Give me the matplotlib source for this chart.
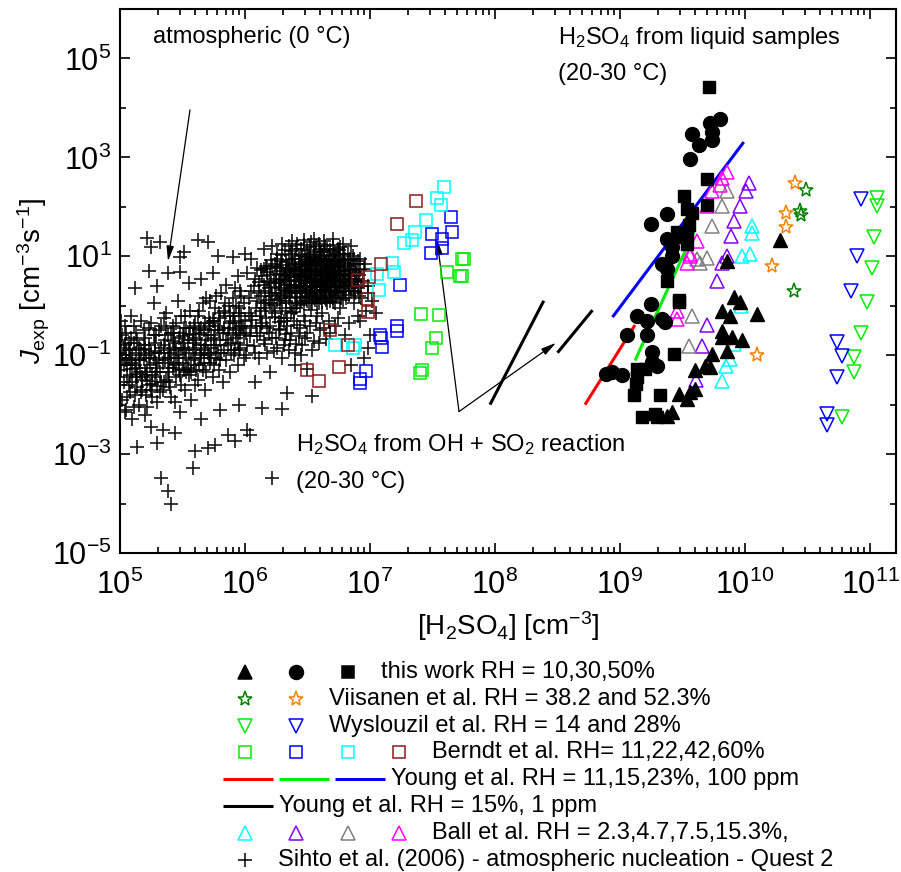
import matplotlib
matplotlib.use('Agg')
import matplotlib.pyplot as plt
import numpy as np
from matplotlib.ticker import LogLocator, LogFormatterSciNotation, NullFormatter, FixedLocator

plt.rcParams['font.family'] = ['Liberation Sans', 'DejaVu Sans']
plt.rcParams['mathtext.fontset'] = 'custom'
plt.rcParams['mathtext.rm'] = 'Liberation Sans'
plt.rcParams['mathtext.it'] = 'Liberation Sans:italic'
plt.rcParams['mathtext.default'] = 'regular'
plt.rcParams['axes.unicode_minus'] = False

# ---- data, log10([H2SO4] / cm-3) and log10(J / cm-3 s-1) ----
# this work
tw10_x = [9.86, 9.91, 9.96, 9.82, 9.88, 10.10, 9.82, 9.82, 9.90, 9.98, 9.86, 9.74, 9.68, 9.72, 9.60, 9.60, 9.56, 9.47, 9.54, 9.42, 9.38, 10.28]
tw10_j = [0.90, 0.18, 0.07, -0.11, -0.21, -0.17, -0.51, -0.63, -0.63, -0.69, -0.91, -0.97, -1.21, -1.23, -1.29, -1.68, -1.74, -1.78, -1.88, -2.14, -2.22, 1.32]
tw30_x = [9.80, 9.72, 9.74, 9.74, 9.58, 9.63, 9.56, 9.38, 9.25, 9.38, 9.42, 9.34, 9.42, 9.38, 9.25, 9.14, 9.22, 9.34, 9.36, 9.06, 9.22, 9.26, 9.26, 9.30, 8.89, 8.94, 9.02]
tw30_j = [3.78, 3.70, 3.52, 3.35, 3.48, 3.25, 2.97, 1.85, 1.66, 1.34, 1.18, 0.84, 1.00, 0.74, 0.03, -0.21, -0.31, -0.27, -0.33, -0.59, -0.59, -0.93, -1.13, -1.21, -1.39, -1.33, -1.41]
tw50_x = [9.71, 9.70, 9.51, 9.70, 9.54, 9.58, 9.55, 9.46, 9.54, 9.48, 9.54, 9.38, 9.47, 9.47, 9.43, 9.14, 9.20, 9.14, 9.13, 9.11, 9.32, 9.18, 9.28, 9.30]
tw50_j = [4.42, 2.57, 2.21, 2.03, 1.95, 1.87, 1.64, 1.50, 1.48, 1.38, 1.24, 0.50, 0.12, 0.07, -0.97, -1.27, -1.27, -1.44, -1.58, -1.80, -1.80, -2.24, -2.18, -2.24]

# Viisanen et al.
vii38_x = [10.49, 10.44, 10.45, 10.39]
vii38_j = [2.33, 1.91, 1.83, 0.30]
vii52_x = [10.40, 10.33, 10.33, 10.22, 10.10]
vii52_j = [2.49, 1.87, 1.60, 0.80, -0.99]

# Wyslouzil et al.
wys14_x = [11.06, 11.06, 11.03, 11.02, 10.98, 10.93, 10.87, 10.87, 10.78]
wys14_j = [2.17, 2.01, 1.38, 0.76, 0.07, -0.55, -1.03, -1.33, -2.24]
wys28_x = [10.93, 10.90, 10.85, 10.74, 10.78, 10.74, 10.66, 10.66]
wys28_j = [2.15, 1.00, 0.30, -0.73, -1.01, -1.44, -2.18, -2.42]

# Berndt et al.
ber11_x = [7.74, 7.75, 7.62, 7.72, 7.74, 7.41, 7.55, 7.53, 7.50, 7.42, 7.40]
ber11_j = [0.94, 0.94, 0.68, 0.60, 0.60, -0.17, -0.19, -0.65, -0.85, -1.29, -1.37]
ber22_x = [7.65, 7.66, 7.50, 7.58, 7.58, 7.49, 7.24, 7.22, 7.22, 7.08, 7.09, 7.10, 6.97, 6.92, 6.92]
ber22_j = [1.79, 1.50, 1.46, 1.34, 1.16, 1.06, 0.42, -0.41, -0.51, -0.59, -0.65, -0.83, -1.31, -1.48, -1.56]
ber42_x = [7.59, 7.54, 7.57, 7.45, 7.36, 7.34, 7.27, 7.18, 7.06, 7.19, 7.07, 6.72, 6.88, 6.86]
ber42_j = [2.41, 2.17, 2.03, 1.74, 1.50, 1.32, 1.26, 0.86, 0.64, 0.68, 0.32, -0.79, -0.79, -0.85]
ber60_x = [7.37, 7.22, 7.09, 6.99, 6.90, 6.98, 6.98, 6.68, 6.82, 6.50, 6.75, 6.59]
ber60_j = [2.11, 1.66, 0.84, 0.58, 0.52, 0.14, -0.13, -0.49, -0.79, -1.29, -1.23, -1.52]

# Ball et al.
ball23_x = [10.06, 10.06, 10.04, 9.98, 9.97, 9.88, 9.85, 9.82, 9.91]
ball23_j = [1.62, 1.48, 1.04, 1.00, -0.01, -1.07, -1.21, -1.52, -0.77]
ball47_x = [10.03, 10.01, 9.96, 9.91, 9.89, 9.86, 9.82, 9.78, 9.70, 9.66, 9.61]
ball47_j = [2.49, 2.31, 2.01, 1.72, 1.40, 1.00, 0.86, 0.50, -0.39, -0.81, -1.50]
ball75_x = [9.86, 9.82, 9.74, 9.70, 9.62, 9.64, 9.58, 9.55]
ball75_j = [2.31, 2.01, 1.62, 0.96, 0.94, 0.86, -0.21, -0.81]
ball153_x = [9.86, 9.82, 9.80, 9.74, 9.70, 9.62, 9.56, 9.56, 9.54, 9.46, 9.46]
ball153_j = [2.71, 2.59, 2.45, 2.31, 2.01, 1.30, 1.04, 1.00, 0.86, -0.11, -0.27]

# Young et al. fits (end points)
young11_x = [8.72, 9.12]
young11_j = [-2.00, -0.39]
young15_x = [9.12, 9.60]
young15_j = [-1.11, 1.54]
young23_x = [8.94, 9.99]
young23_j = [-0.23, 3.31]
young1ppm_a_x = [7.96, 8.39]
young1ppm_a_j = [-2.00, 0.10]
young1ppm_b_x = [8.50, 8.78]
young1ppm_b_j = [-0.95, -0.09]

# Sihto et al. (2006), Quest 2, pairs of (log10 H2SO4, log10 J)
sihto_log = [
    (6.05, 0.30), (6.08, 0.55), (6.10, 0.10), (6.12, -0.20), (6.13, 0.72), (6.15, 0.42), (6.17, 0.05), (6.18, -0.45),
    (6.20, 0.62), (6.21, 0.25), (6.22, -0.10), (6.24, 0.85), (6.25, 0.48), (6.26, 0.12), (6.27, -0.32), (6.28, 0.70),
    (6.29, 0.35), (6.30, 1.02), (6.30, -0.05), (6.31, 0.55), (6.32, 0.20), (6.33, 0.88), (6.34, -0.25), (6.35, 0.42),
    (6.35, 0.68), (6.36, 0.05), (6.37, 1.10), (6.38, 0.30), (6.38, 0.78), (6.39, -0.12), (6.40, 0.52), (6.40, 0.95),
    (6.41, 0.18), (6.42, 0.65), (6.42, -0.38), (6.43, 0.40), (6.44, 0.82), (6.44, 0.02), (6.45, 1.15), (6.46, 0.58),
    (6.46, 0.28), (6.47, -0.20), (6.48, 0.72), (6.48, 0.45), (6.49, 0.92), (6.50, 0.10), (6.50, 0.62), (6.51, 1.05),
    (6.52, 0.35), (6.52, 0.80), (6.53, -0.08), (6.54, 0.55), (6.54, 0.22), (6.55, 0.98), (6.56, 0.68), (6.56, 0.40),
    (6.57, 1.20), (6.58, 0.05), (6.58, 0.85), (6.59, 0.50), (6.60, 0.28), (6.60, 0.75), (6.61, 1.08), (6.62, -0.15),
    (6.62, 0.60), (6.63, 0.38), (6.64, 0.90), (6.64, 0.15), (6.65, 0.70), (6.66, 1.15), (6.66, 0.48), (6.67, -0.30),
    (6.68, 0.82), (6.68, 0.30), (6.69, 0.58), (6.70, 1.00), (6.70, 0.08), (6.71, 0.68), (6.72, 0.42), (6.72, 0.92),
    (6.73, 0.20), (6.74, 0.78), (6.75, 1.12), (6.75, 0.55), (6.76, -0.05), (6.77, 0.88), (6.78, 0.35), (6.78, 0.65),
    (6.79, 1.05), (6.80, 0.48), (6.81, 0.15), (6.82, 0.80), (6.83, 0.60), (6.84, 0.95), (6.85, 0.30), (6.86, 0.72),
    (6.87, 0.05), (6.88, 0.50), (6.89, 0.85), (6.90, -0.20), (6.91, 0.62), (6.93, 0.40), (6.95, 0.75), (6.97, -0.10),
    (6.36, 0.50), (6.41, 0.75), (6.45, 0.62), (6.47, 0.38), (6.50, 0.85), (6.53, 0.65), (6.55, 0.48), (6.57, 0.72),
    (6.59, 0.92), (6.61, 0.45), (6.63, 0.80), (6.65, 0.55), (6.67, 0.68), (6.69, 0.40), (6.71, 0.88), (6.73, 0.60),
    (6.44, 0.25), (6.49, 0.18), (6.56, 0.12), (6.62, 0.32), (6.68, 0.10), (6.52, 0.50), (6.60, 0.60), (6.66, 0.90),
    (6.43, 0.58), (6.58, 0.38), (6.64, 0.42), (6.70, 0.52), (6.76, 0.70), (6.39, 0.62), (6.34, 0.30), (6.48, 0.98),
    (6.54, 0.88), (6.62, 1.00), (6.74, 0.95),
    (6.11, 0.48), (6.13, 0.20), (6.14, 0.60), (6.16, -0.05), (6.17, 0.80), (6.19, 0.35), (6.20, 0.05), (6.21, 0.92),
    (6.23, 0.55), (6.24, -0.22), (6.25, 0.25), (6.26, 0.78), (6.27, 0.45), (6.28, 0.05), (6.29, 0.90), (6.30, 0.62),
    (6.31, -0.30), (6.32, 0.42), (6.33, 0.10), (6.34, 0.75), (6.35, 1.20), (6.36, 0.25), (6.37, 0.58), (6.37, -0.15),
    (6.38, 0.95), (6.39, 0.40), (6.40, 0.70), (6.41, -0.05), (6.42, 1.25), (6.42, 0.30), (6.43, 0.85), (6.44, 0.50),
    (6.45, 0.10), (6.45, 0.78), (6.46, 1.02), (6.47, 0.55), (6.48, 0.25), (6.48, -0.30), (6.49, 0.68), (6.50, 0.40),
    (6.51, 0.88), (6.51, 0.20), (6.52, 1.18), (6.53, 0.45), (6.53, 0.75), (6.54, 0.05), (6.55, 0.62), (6.55, 1.08),
    (6.56, 0.30), (6.57, 0.90), (6.57, 0.52), (6.58, -0.20), (6.58, 0.68), (6.59, 1.25), (6.60, 0.42), (6.60, 0.95),
    (6.61, 0.15), (6.61, 0.72), (6.62, 0.50), (6.63, 1.10), (6.63, 0.25), (6.64, 0.65), (6.65, 0.88), (6.65, 0.35),
    (6.66, 0.05), (6.66, 0.62), (6.67, 1.02), (6.67, 0.45), (6.68, 0.72), (6.69, 0.22), (6.69, 0.92), (6.70, 0.65),
    (6.70, 1.22), (6.71, 0.38), (6.72, 0.80), (6.72, 0.05), (6.73, 1.05), (6.73, 0.48), (6.74, 0.30), (6.75, 0.85),
    (6.76, 0.60), (6.76, 1.18), (6.77, 0.40), (6.78, 0.92), (6.78, 0.12), (6.79, 0.70), (6.80, 0.95), (6.80, 0.30),
    (6.81, 0.62), (6.82, 1.05), (6.83, 0.40), (6.84, 0.75), (6.85, 0.55), (6.86, 1.00), (6.87, 0.30), (6.88, 0.68),
    (6.89, 0.48), (6.90, 0.90), (6.91, 0.20), (6.92, 0.72), (6.94, 0.50), (6.96, 0.85), (6.98, 0.40), (6.38, 1.30),
    (6.47, 1.32), (6.55, 1.35), (6.63, 1.30), (6.70, 1.35), (6.78, 1.25), (6.85, 1.20), (6.30, 1.25), (6.22, 0.20),
    (6.18, 0.50), (6.15, 0.75), (6.26, 0.95), (6.33, 0.60), (6.44, 0.65), (6.57, 0.18), (6.68, 0.52), (6.82, 0.45),
    (6.90, 0.35),
    (6.16, 0.30), (6.18, 0.68), (6.19, 0.12), (6.21, 0.45), (6.22, 0.80), (6.23, 0.02), (6.24, 0.38), (6.25, 0.65),
    (6.26, 1.05), (6.27, 0.22), (6.28, 0.52), (6.29, 0.15), (6.30, 0.82), (6.31, 0.32), (6.32, 1.12), (6.32, 0.65),
    (6.33, -0.10), (6.34, 0.50), (6.35, 0.92), (6.35, 0.15), (6.36, 0.72), (6.37, 0.35), (6.38, 1.05), (6.38, -0.05),
    (6.39, 0.85), (6.40, 0.25), (6.40, 0.60), (6.41, 1.15), (6.41, 0.42), (6.42, 0.05), (6.43, 0.72), (6.43, 1.00),
    (6.44, 0.35), (6.45, 0.88), (6.45, 0.48), (6.46, 0.15), (6.46, 0.75), (6.47, 1.22), (6.47, 0.05), (6.48, 0.58),
    (6.49, 0.32), (6.49, 0.82), (6.50, 1.12), (6.50, 0.50), (6.51, 0.05), (6.51, 0.70), (6.52, 0.95), (6.52, 0.25),
    (6.53, 0.58), (6.53, 1.28), (6.54, 0.38), (6.54, 0.75), (6.55, 0.15), (6.55, 0.85), (6.56, 0.55), (6.56, 1.02),
    (6.57, 0.32), (6.57, 0.62), (6.58, 0.95), (6.58, 0.22), (6.59, 0.72), (6.59, 0.05), (6.60, 0.52), (6.60, 1.15),
    (6.61, 0.85), (6.61, 0.32), (6.62, 0.68), (6.62, 0.08), (6.63, 0.55), (6.63, 0.95), (6.64, 0.28), (6.64, 1.20),
    (6.65, 0.78), (6.65, 0.12), (6.66, 0.40), (6.66, 0.75), (6.67, 0.20), (6.67, 0.88), (6.68, 0.58), (6.68, 1.12),
    (6.69, 0.32), (6.69, 0.78), (6.70, 0.15), (6.70, 0.85), (6.71, 0.55), (6.71, 1.08), (6.72, 0.28), (6.72, 0.68),
    (6.73, 0.88), (6.73, 0.38), (6.74, 0.62), (6.74, 1.15), (6.75, 0.25), (6.75, 0.72), (6.76, 0.45), (6.76, 0.92),
    (6.77, 0.15), (6.77, 0.65), (6.78, 0.50), (6.78, 1.05), (6.79, 0.30), (6.80, 0.78), (6.81, 0.40), (6.82, 0.92),
    (6.83, 0.22), (6.84, 0.55), (6.85, 0.85), (6.86, 0.42), (6.87, 0.95), (6.88, 0.25), (6.89, 0.65), (6.90, 0.55),
    (6.92, 0.95), (6.93, 0.15),
    (5.96, -0.55), (6.00, -0.30), (6.02, -0.80), (6.05, -0.45), (6.08, -0.95), (6.10, -0.62), (6.14, -0.35), (6.16, -0.78),
    (6.19, -0.55), (6.23, -0.92), (6.25, -0.65), (6.28, -0.48), (6.31, -0.80), (6.33, -0.58), (6.36, -0.70), (6.40, -0.95),
    (6.43, -0.62), (6.46, -0.80), (6.50, -0.55), (6.55, -0.72), (6.60, -0.50), (6.65, -0.68), (6.72, -0.40), (6.80, -0.60),
    (5.92, -0.35), (5.94, -0.75), (5.97, -0.20), (5.99, -0.60), (6.01, -1.00), (6.03, -0.15), (6.04, -0.62), (6.06, -0.28),
    (6.07, -0.82), (6.09, -0.40), (6.11, -1.05), (6.12, -0.55), (6.13, -0.10), (6.15, -0.70), (6.17, -0.25), (6.18, -0.95),
    (6.20, -0.40), (6.22, -0.65), (6.24, -0.15), (6.26, -0.85), (6.27, -0.50), (6.29, -0.25), (6.30, -1.05), (6.32, -0.70),
    (6.34, -0.42), (6.35, -0.90), (6.37, -0.55), (6.39, -0.30), (6.41, -0.78), (6.44, -0.45), (6.45, -1.00), (6.48, -0.65),
    (6.52, -0.40), (6.54, -0.90), (6.57, -0.35), (6.59, -0.75), (6.63, -0.45), (6.68, -0.55), (6.74, -0.25), (6.83, -0.35),
    (5.00, -0.95), (5.01, -1.30), (5.02, -0.60), (5.03, -1.55), (5.04, -0.40), (5.05, -1.10), (5.06, -1.85), (5.07, -0.75),
    (5.08, -1.40), (5.09, -0.20), (5.10, -1.00), (5.11, -2.05), (5.12, -1.20), (5.13, -0.55), (5.14, -1.65), (5.15, -0.85),
    (5.16, -1.35), (5.17, -0.30), (5.18, -1.50), (5.19, -1.05), (5.20, -0.65), (5.21, -1.80), (5.22, -1.25), (5.23, -0.45),
    (5.24, -1.60), (5.25, -0.95), (5.26, -1.40), (5.27, 0.05), (5.28, -0.75), (5.29, -1.15), (5.30, -1.95), (5.31, -0.50),
    (5.32, -1.35), (5.33, -0.85), (5.34, -1.70), (5.35, -0.25), (5.36, -1.10), (5.37, -1.50), (5.38, -0.60), (5.39, -1.25),
    (5.40, -0.95), (5.41, -1.85), (5.42, -0.40), (5.43, -1.15), (5.44, -0.75), (5.45, -1.45), (5.46, 0.10), (5.47, -1.00),
    (5.48, -0.55), (5.49, -1.60), (5.50, -0.85), (5.51, -1.30), (5.52, -0.20), (5.53, -1.05), (5.54, -0.70), (5.55, -1.40),
    (5.56, -0.45), (5.57, -1.90), (5.58, -0.90), (5.59, -1.20), (5.60, -0.35), (5.61, -0.65), (5.62, -1.50), (5.63, -0.10),
    (5.64, -1.00), (5.65, -0.80), (5.66, -1.30), (5.67, -0.50), (5.68, -1.70), (5.69, 0.15), (5.70, -0.95), (5.71, -0.25),
    (5.72, -1.15), (5.73, -0.60), (5.74, -1.45), (5.75, -0.80), (5.76, -0.05), (5.77, -1.05), (5.78, -0.40), (5.79, -1.30),
    (5.80, -0.70), (5.81, 0.25), (5.82, -1.55), (5.83, -0.90), (5.84, -0.20), (5.85, -1.10), (5.86, -0.55), (5.87, 0.00),
    (5.88, -1.35), (5.89, -0.75), (5.90, -0.30), (5.91, -1.00), (5.92, 0.35), (5.93, -0.50), (5.94, -1.20), (5.95, -0.15),
    (5.96, -0.85), (5.97, 0.20), (5.98, -0.40), (5.99, -1.05),
    (5.02, -1.05), (5.06, -1.20), (5.10, -1.28), (5.14, -1.38), (5.18, -1.45), (5.22, -1.52), (5.26, -1.58), (5.30, -1.62),
    (5.04, -0.80), (5.08, -0.90), (5.13, -0.95), (5.20, -0.88), (5.28, -0.92), (5.35, -0.80), (5.42, -0.72), (5.50, -0.62),
    (5.58, -0.58), (5.65, -0.45), (5.72, -0.35), (5.80, -0.25), (5.88, -0.15), (5.95, -0.05), (5.38, -1.05), (5.45, -1.20),
    (5.52, -0.90), (5.60, -1.05), (5.68, -0.80), (5.75, -0.65), (5.83, -0.45), (5.90, -0.60),
    (5.00, -1.60), (5.01, -0.30), (5.02, -1.90), (5.03, -0.85), (5.04, -2.15), (5.05, -0.55), (5.06, -1.45), (5.07, -1.05),
    (5.08, -1.75), (5.09, -0.65), (5.10, -1.55), (5.11, -0.40), (5.12, -1.80), (5.13, -1.25), (5.14, -0.70), (5.15, -2.00),
    (5.16, -1.10), (5.17, -0.90), (5.18, -1.70), (5.19, -0.50), (5.20, -1.35), (5.21, -1.00), (5.22, -2.05), (5.23, -0.80),
    (5.24, -1.20), (5.25, -0.35), (5.26, -1.85), (5.27, -1.05), (5.28, -1.45), (5.29, -0.60), (5.30, -1.25), (5.31, -0.95),
    (5.32, -1.75), (5.33, -0.40), (5.34, -1.15), (5.35, -1.55), (5.36, -0.70), (5.37, -0.15), (5.38, -1.35), (5.39, -0.90),
    (5.40, -1.65), (5.41, -0.55), (5.42, -1.25), (5.43, -0.85), (5.44, -1.95), (5.45, -0.35), (5.46, -1.05), (5.47, -0.65),
    (5.48, -1.40), (5.49, -0.20), (5.50, -1.15), (5.51, -0.75), (5.52, -1.70), (5.53, -0.45), (5.54, -1.25), (5.55, -0.95),
    (5.56, -0.10), (5.57, -1.35), (5.58, -0.70), (5.59, -0.40), (5.60, -1.60), (5.61, -0.85), (5.62, -0.20), (5.63, -1.20),
    (5.64, -0.55), (5.65, -1.05), (5.66, 0.05), (5.67, -0.90), (5.68, -0.35), (5.69, -1.35), (5.70, -0.60), (5.71, -1.00),
    (5.72, 0.10), (5.73, -0.85), (5.74, -0.30), (5.75, -1.20), (5.76, -0.50), (5.77, 0.20), (5.78, -0.95), (5.79, -0.15),
    (5.80, -1.10), (5.82, -0.55), (5.84, 0.05), (5.86, -0.80), (5.88, -0.35), (5.90, 0.15), (5.92, -0.90), (5.93, 0.00),
    (5.95, -0.45), (5.96, 0.30),
    (5.01, -0.70), (5.03, -1.20), (5.05, -0.90), (5.07, -1.60), (5.09, -1.15), (5.11, -0.75), (5.13, -1.45), (5.15, -1.10),
    (5.17, -1.75), (5.19, -0.80), (5.21, -1.40), (5.23, -1.05), (5.25, -1.70), (5.27, -0.60), (5.29, -1.35), (5.31, -1.10),
    (5.33, -1.55), (5.35, -0.95), (5.37, -0.45), (5.39, -1.55), (5.41, -1.05), (5.43, -0.55), (5.45, -0.90), (5.47, -1.30),
    (5.49, -0.85), (5.51, -0.45), (5.53, -1.35), (5.55, -0.60), (5.57, -1.10), (5.59, -0.75), (5.61, -1.30), (5.63, -0.50),
    (5.65, -0.95), (5.67, -1.15), (5.69, -0.70), (5.71, -0.40), (5.73, -1.05), (5.75, -0.30), (5.77, -0.80), (5.79, -0.50),
    (5.81, -0.95), (5.83, -0.10), (5.85, -0.70), (5.87, -0.45), (5.89, -0.95), (5.91, -0.20), (5.93, -0.65), (5.95, -0.90),
    (5.97, -0.40), (5.99, 0.05), (6.01, -0.55), (6.03, 0.15), (6.05, -0.20), (6.07, 0.40), (6.09, -0.05), (6.11, 0.25),
    (6.13, -0.40), (6.15, 0.05),
    (5.22, 1.36), (5.25, 1.18), (5.32, 1.28), (5.48, 0.98), (5.51, 1.08), (5.62, 1.32), (5.70, 1.28), (5.78, 1.00),
    (5.90, 0.98), (5.23, 0.70), (5.38, 0.66), (5.48, 0.68), (5.74, 0.66), (5.94, 0.60), (6.02, 0.66), (6.10, 0.76),
    (6.18, 0.76), (6.28, 0.76), (5.12, 0.35), (5.30, 0.40), (5.55, 0.45), (5.65, 0.55), (5.85, 0.42), (6.00, 1.05),
    (6.15, 1.15), (6.22, 1.20), (6.05, 0.95),
    (5.10, -2.30), (5.14, -2.86), (5.30, -2.78), (5.33, -3.49), (5.38, -3.75), (5.41, -4.00), (5.58, -3.29), (5.60, -2.94),
    (5.70, -2.88), (5.76, -2.82), (5.86, -2.62), (5.92, -2.74), (6.02, -2.52), (6.04, -2.62), (6.22, -3.49), (6.14, -2.06),
    (6.30, -2.08), (6.34, -1.76), (6.54, -1.82), (6.50, -1.27), (5.44, -2.58), (5.34, -2.52), (5.05, -2.10), (5.20, -2.20),
    (5.48, -2.15), (5.65, -2.30), (5.80, -2.10), (5.95, -2.00), (6.08, -1.55), (6.20, -1.35), (6.40, -1.20), (5.25, -2.45),
    (6.92, -0.30), (6.98, 0.25), (7.00, -0.60), (7.02, 0.10), (7.05, -0.15), (6.95, -1.05), (6.85, -1.20), (6.98, -0.85),
]

red = '#FF0000'
lime = '#00EE00'
blue = '#0000FF'
cyan = '#00FFFF'
brown = '#8B1A1A'
dgreen = '#008000'
orange = '#FF8000'
purple = '#8000FF'
gray = '#808080'
magenta = '#FF00FF'


def p10(v):
    return 10 ** np.asarray(v, dtype=float)


fig = plt.figure(figsize=(9.01, 8.72), dpi=100)
ax = fig.add_axes([120 / 901, 1 - 553 / 872, 776 / 901, 544 / 872])
ax.set_xscale('log')
ax.set_yscale('log')

s = np.array(sihto_log)
ax.plot(p10(s[:, 0]), p10(s[:, 1]), '+', color='k', ms=10, mew=1.2, alpha=0.9, zorder=2)

# Young fits
for xs, js, c in [(young11_x, young11_j, red), (young15_x, young15_j, lime), (young23_x, young23_j, blue),
                  (young1ppm_a_x, young1ppm_a_j, 'k'), (young1ppm_b_x, young1ppm_b_j, 'k')]:
    ax.plot(p10(xs), p10(js), '-', color=c, lw=2.2, solid_capstyle='butt', zorder=3)

open_kw = dict(ls='none', mfc='none', mew=1.1, zorder=4)
for xs, js, c in [(ber11_x, ber11_j, lime), (ber22_x, ber22_j, blue), (ber42_x, ber42_j, cyan), (ber60_x, ber60_j, brown)]:
    ax.plot(p10(xs), p10(js), marker='s', ms=8, mec=c, **open_kw)
for xs, js, c in [(ball23_x, ball23_j, cyan), (ball47_x, ball47_j, purple), (ball75_x, ball75_j, gray), (ball153_x, ball153_j, magenta)]:
    ax.plot(p10(xs), p10(js), marker='^', ms=10, mec=c, **open_kw)
for xs, js, c in [(wys14_x, wys14_j, lime), (wys28_x, wys28_j, blue)]:
    ax.plot(p10(xs), p10(js), marker='v', ms=10, mec=c, **open_kw)
for xs, js, c in [(vii38_x, vii38_j, dgreen), (vii52_x, vii52_j, orange)]:
    ax.plot(p10(xs), p10(js), marker='*', ms=11, mec=c, **open_kw)

ax.plot(p10(tw10_x), p10(tw10_j), '^', color='k', ms=10, zorder=5)
ax.plot(p10(tw30_x), p10(tw30_j), 'o', color='k', ms=10, zorder=5)
ax.plot(p10(tw50_x), p10(tw50_j), 's', color='k', ms=8, zorder=5)

# arrows
arw = dict(arrowstyle='-|>,head_width=0.22,head_length=0.9', color='k', lw=0.9, shrinkA=0, shrinkB=0)
ax.annotate('', xy=p10([5.384, 0.90]), xytext=p10([5.56, 3.96]), arrowprops=arw)
ax.annotate('', xy=p10([7.536, 1.34]), xytext=p10([7.712, -2.14]), arrowprops=arw)
ax.annotate('', xy=p10([8.488, -0.75]), xytext=p10([7.712, -2.14]), arrowprops=arw)

tfs = 17
ax.text(0.0425, 0.949, 'atmospheric (0 °C)', transform=ax.transAxes, fontsize=tfs, va='center')
ax.text(0.564, 0.947, 'H$_2$SO$_4$ from liquid samples', transform=ax.transAxes, fontsize=tfs, va='center')
ax.text(0.564, 0.881, '(20-30 °C)', transform=ax.transAxes, fontsize=tfs, va='center')
ax.text(0.227, 0.199, 'H$_2$SO$_4$ from OH + SO$_2$ reaction', transform=ax.transAxes, fontsize=tfs, va='center')
ax.text(0.227, 0.130, '(20-30 °C)', transform=ax.transAxes, fontsize=tfs, va='center')

ax.set_xlim(1e5, 10 ** 11.208)
ax.set_ylim(1e-5, 1e6)
ax.xaxis.set_major_locator(FixedLocator([1e5, 1e6, 1e7, 1e8, 1e9, 1e10, 1e11]))
ax.xaxis.set_minor_locator(LogLocator(base=10, subs=np.arange(2, 10), numticks=20))
ax.xaxis.set_minor_formatter(NullFormatter())
ax.xaxis.set_major_formatter(LogFormatterSciNotation())
ax.yaxis.set_major_locator(FixedLocator([1e-5, 1e-3, 1e-1, 1e1, 1e3, 1e5]))
ax.yaxis.set_minor_locator(FixedLocator([1e-4, 1e-2, 1e0, 1e2, 1e4]))
ax.yaxis.set_minor_formatter(NullFormatter())
ax.yaxis.set_major_formatter(LogFormatterSciNotation())
ax.tick_params(which='both', direction='in', top=True, right=True, width=1.2, labelsize=22)
ax.tick_params(which='major', length=7)
ax.tick_params(which='minor', length=4)
ax.tick_params(axis='x', pad=12)
ax.tick_params(axis='y', pad=6)
for sp in ax.spines.values():
    sp.set_linewidth(1.5)

ax.set_xlabel('[H$_2$SO$_4$] [cm$^{-3}$]', fontsize=20, labelpad=6)
ax.set_ylabel('$\\mathit{J}_{exp}$ [cm$^{-3}$s$^{-1}$]', fontsize=20, labelpad=0)

# legend drawn in figure pixel space
lax = fig.add_axes([0, 0, 1, 1])
lax.set_xlim(0, 901)
lax.set_ylim(872, 0)
lax.axis('off')
lax.patch.set_alpha(0)

row0, drow = 672, 26.8
col0, dcol = 245, 51.3
lfs = 17
marker_rows = [
    (0, [('^', 'k', 'k', 10), ('o', 'k', 'k', 10), ('s', 'k', 'k', 8)], 'this work RH = 10,30,50%'),
    (1, [('*', dgreen, 'none', 11), ('*', orange, 'none', 11)], 'Viisanen et al. RH = 38.2 and 52.3%'),
    (2, [('v', lime, 'none', 10), ('v', blue, 'none', 10)], 'Wyslouzil et al. RH = 14 and 28%'),
    (3, [('s', lime, 'none', 8), ('s', blue, 'none', 8), ('s', cyan, 'none', 8), ('s', brown, 'none', 8)],
     'Berndt et al. RH= 11,22,42,60%'),
    (6, [('^', cyan, 'none', 10), ('^', purple, 'none', 10), ('^', gray, 'none', 10), ('^', magenta, 'none', 10)],
     'Ball et al. RH = 2.3,4.7,7.5,15.3%,'),
    (7, [('+', 'k', 'k', 10)], 'Sihto et al. (2006) - atmospheric nucleation - Quest 2'),
]
for r, mks, label in marker_rows:
    y = row0 + r * drow
    for j, (m, ec, fc, ms) in enumerate(mks):
        lax.plot([col0 + j * dcol], [y], marker=m, ms=ms, mec=ec, mfc=fc, mew=1.1, ls='none')
    lax.text(col0 + (len(mks) - 1) * dcol + 33, y, label, fontsize=lfs, va='center')

line_rows = [
    (4, [red, lime, blue], 'Young et al. RH = 11,15,23%, 100 ppm'),
    (5, ['k'], 'Young et al. RH = 15%, 1 ppm'),
]
for r, cols, label in line_rows:
    y = row0 + r * drow
    for j, c in enumerate(cols):
        x0 = 223 + j * 56
        lax.plot([x0, x0 + 50], [y, y], color=c, lw=2.2, solid_capstyle='butt')
    lax.text(223 + (len(cols) - 1) * 56 + 56, y, label, fontsize=lfs, va='center')

fig.savefig('out.png', dpi=100)
